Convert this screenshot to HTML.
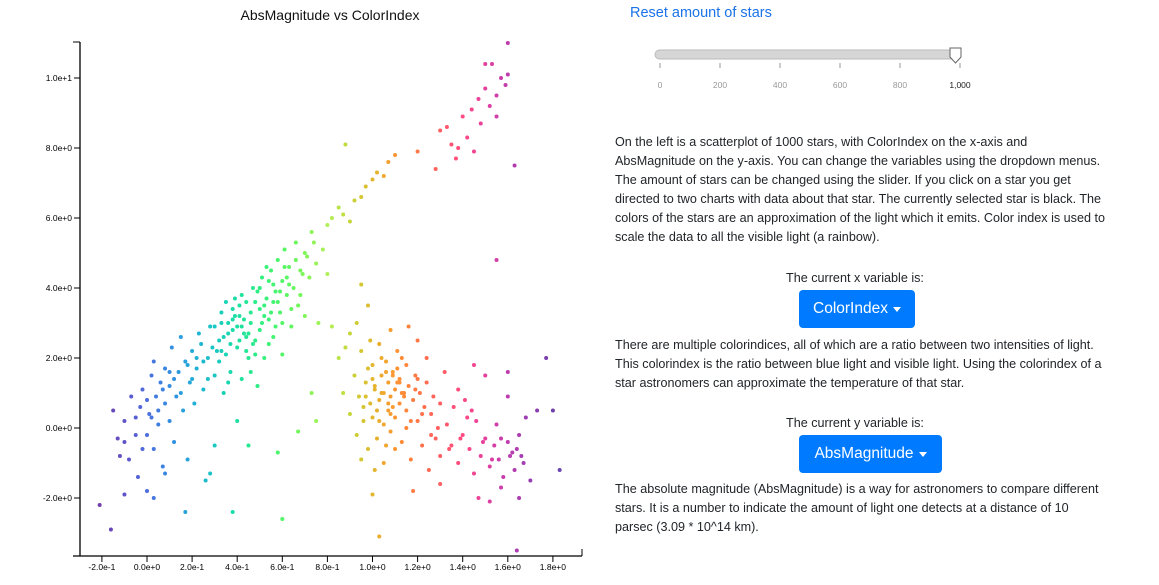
<!DOCTYPE html>
<html><head><meta charset="utf-8">
<style>
body{margin:0;width:1159px;height:585px;background:#fff;font-family:"Liberation Sans",sans-serif;overflow:hidden;position:relative;color:#212529}
.abs{position:absolute}
.p{position:absolute;left:615px;font-size:12.6px;line-height:19px;white-space:nowrap}
.lbl{position:absolute;font-size:12.6px;text-align:center;width:200px}
.btn{position:absolute;background:#007bff;color:#fff;border-radius:4px;font-size:15.5px;display:flex;align-items:center;justify-content:center}
.caret{display:inline-block;width:0;height:0;border-left:4px solid transparent;border-right:4px solid transparent;border-top:5px solid #fff;margin-left:5px;margin-top:1px}
</style></head><body>
<div class="abs" style="left:180px;top:7px;width:300px;text-align:center;font-size:14px;color:#111">AbsMagnitude vs ColorIndex</div>
<svg class="abs" style="left:0;top:0" width="600" height="585">
<g id="axes"></g><g id="pts"></g>
</svg>
<div class="abs" style="left:630px;top:5px;font-size:14.5px;color:#1a73e8">Reset amount of stars</div>
<svg class="abs" style="left:640px;top:40px" width="340" height="60">
<rect x="15" y="10" width="305" height="9" rx="4.5" fill="#d6d6d6" stroke="#bbb"/>
<g id="sticks"></g>
<path d="M310 8 h11 v9 l-5.5 6 l-5.5 -6 z" fill="#fff" stroke="#666"/>
</svg>
<div class="p" style="top:133px">On the left is a scatterplot of 1000 stars, with ColorIndex on the x-axis and<br>AbsMagnitude on the y-axis. You can change the variables using the dropdown menus.<br>The amount of stars can be changed using the slider. If you click on a star you get<br>directed to two charts with data about that star. The currently selected star is black. The<br>colors of the stars are an approximation of the light which it emits. Color index is used to<br>scale the data to all the visible light (a rainbow).</div>
<div class="lbl" style="left:755px;top:271px">The current x variable is:</div>
<div class="btn" style="left:799px;top:290px;width:116px;height:38px">ColorIndex<span class="caret"></span></div>
<div class="p" style="top:336px">There are multiple colorindices, all of which are a ratio between two intensities of light.<br>This colorindex is the ratio between blue light and visible light. Using the colorindex of a<br>star astronomers can approximate the temperature of that star.</div>
<div class="lbl" style="left:755px;top:416px">The current y variable is:</div>
<div class="btn" style="left:799px;top:435px;width:143px;height:38px">AbsMagnitude<span class="caret"></span></div>
<div class="p" style="top:480px">The absolute magnitude (AbsMagnitude) is a way for astronomers to compare different<br>stars. It is a number to indicate the amount of light one detects at a distance of 10<br>parsec (3.09 * 10^14 km).</div>
<script>
const xTicks=[-0.2,0,0.2,0.4,0.6,0.8,1.0,1.2,1.4,1.6,1.8];
const xTickLabels=["-2.0e-1","0.0e+0","2.0e-1","4.0e-1","6.0e-1","8.0e-1","1.0e+0","1.2e+0","1.4e+0","1.6e+0","1.8e+0"];
const yTicks=[-2,0,2,4,6,8,10];
const yTickLabels=["-2.0e+0","0.0e+0","2.0e+0","4.0e+0","6.0e+0","8.0e+0","1.0e+1"];
const sliderTicks=[0,200,400,600,800,1000];
const sliderLabels=["0","200","400","600","800","1,000"];
const colorIndex=[-0.15,-0.13,-0.12,-0.1,-0.1,-0.08,-0.07,-0.05,-0.05,-0.04,-0.03,-0.02,0,0,0.01,0.02,0.03,0.03,0.04,0.05,0.06,0.07,0.08,0.08,0.1,0.1,0.11,0.12,0.13,0.14,0.15,0.16,0.17,0.18,0.19,0.2,0.21,0.22,0.23,0.25,0.26,0.27,0.28,0.3,0.3,0.32,0.33,0.34,0.35,0.36,0.37,0.38,0.39,0.4,0.4,0.41,0.42,0.43,0.44,0.45,0.45,0.46,0.47,0.48,0.49,0.5,0.5,0.51,0.52,0.53,0.54,0.55,0.56,0.57,0.58,0.59,0.6,0.6,0.61,0.62,0.63,0.64,0.65,0.66,0.67,0.68,0.7,0.7,0.72,0.73,0.75,0.76,0.78,0.8,0.8,0.82,0.85,0.87,0.88,0.9,0.92,0.95,0.97,1.0,1.02,1.05,1.07,1.1,
0.0,0.03,0.08,0.17,0.28,0.38,0.58,0.6,0.67,0.73,0.75,-0.21,-0.16,-0.1,
0.85,0.87,0.9,0.9,0.92,0.93,0.94,0.95,0.96,0.97,0.98,0.99,1.0,1.0,1.01,1.02,1.03,1.03,1.04,1.05,1.05,1.06,1.07,1.07,1.08,1.08,1.09,1.1,1.1,1.11,1.12,1.12,1.13,1.14,1.15,1.15,1.16,1.17,1.18,1.19,1.2,1.2,1.21,1.22,1.23,1.24,1.25,1.26,1.27,1.28,1.3,1.3,1.32,1.33,1.35,1.36,1.38,1.4,1.41,1.43,1.45,1.46,1.48,1.5,1.5,1.52,1.54,1.55,1.56,1.58,1.6,1.6,1.62,1.63,1.65,1.66,1.68,1.7,1.73,1.77,1.8,1.83,1.64,1.03,1.0,1.18,1.3,1.47,1.52,1.57,1.65,1.45,1.38,1.6,1.55,1.63,0.95,0.98,1.08,1.16,0.88,0.82,0.93,
1.2,1.28,1.3,1.33,1.35,1.37,1.4,1.42,1.44,1.45,1.47,1.48,1.5,1.52,1.53,1.55,1.57,1.59,1.6,1.5,1.6,1.38,1.55,
0.3,0.32,0.34,0.36,0.38,0.4,0.42,0.44,0.46,0.48,0.5,0.52,0.54,0.56,0.58,0.6,0.62,0.64,0.66,0.68,0.35,0.43,0.47,0.53,0.57,0.2,0.24,0.15,0.1,0.05,0.27,0.33,0.41,
1.0,1.02,1.04,1.06,1.09,1.11,1.13,1.15,0.97,0.95,1.05,1.1,1.2,1.24,0.99,1.01,
0.31,0.33,0.37,0.39,0.41,0.44,0.46,0.49,0.51,0.54,0.56,0.59,0.61,0.63,0.42,0.45,0.38,0.52,0.48,0.55,0.36,0.29,0.25,0.22,0.18,0.12,0.07,0.02,-0.02,0.69,0.71,0.74,
1.01,1.03,1.06,1.08,1.12,1.14,1.17,1.19,1.22,1.26,1.29,1.34,1.39,1.42,1.44,1.49,1.53,1.57,1.61,1.64,1.67,1.04,1.09,1.13,0.98,0.96,1.07,1.11];
const absMag=[0.5,-0.3,-0.8,-0.4,0.2,-0.9,0.9,0.3,-0.2,-1.4,0.6,1.1,0.8,-0.2,0.4,1.5,-0.6,1.9,0.9,0.1,1.3,-1.1,0.7,1.7,0.2,1.2,2.3,-0.4,0.9,1.6,2.6,0.5,1.9,-0.9,1.3,2.2,0.7,1.7,2.7,1.1,-1.5,2.0,2.9,1.5,-0.5,2.5,3.3,1.0,2.1,3.0,1.6,2.8,3.7,2.3,0.2,3.2,1.4,2.7,3.6,2.0,-0.5,3.0,4.0,2.5,1.2,3.4,2.8,4.3,2.0,3.7,3.1,4.5,2.6,3.9,4.8,3.3,4.2,2.1,5.1,3.8,4.6,2.9,4.0,5.3,3.5,4.5,5.0,3.2,4.3,5.6,4.7,3.0,5.1,5.8,4.4,6.0,6.3,6.1,8.1,5.9,6.5,6.6,6.9,7.1,7.3,7.2,7.6,7.8,
-1.8,-2.0,-1.3,-2.4,-1.3,-2.4,-0.7,-2.6,-0.1,1.0,0.2,-2.2,-2.9,-1.9,
2.0,1.0,2.7,0.4,1.5,-0.2,0.9,2.2,0.2,1.3,-0.6,0.7,1.8,0.3,1.1,-0.3,2.4,0.8,1.5,0.1,1.0,1.9,0.5,1.3,-0.1,0.9,1.6,0.3,1.1,2.2,0.7,1.4,-0.4,1.0,0.5,1.8,1.2,-0.9,0.8,1.5,0.2,2.5,1.0,-0.5,0.6,1.3,-1.2,0.4,0.9,-0.3,0.7,-0.8,1.6,0.1,-0.5,0.6,-1.0,-0.2,0.8,-0.6,-1.3,0.2,-0.8,-0.3,1.5,-1.1,-0.5,0.1,-0.9,-1.4,-0.4,0.9,-0.7,-1.2,-0.2,-0.8,0.3,-1.5,0.5,2.0,0.5,-1.2,-3.5,-3.1,-1.9,-1.8,-1.6,-2.0,-2.1,-1.7,-2.0,1.8,1.1,1.6,4.8,7.5,4.1,3.5,2.8,2.9,2.3,2.9,3.0,
7.9,7.4,8.5,8.6,8.1,7.7,8.9,8.3,9.1,7.9,9.4,8.7,9.7,9.2,10.4,9.5,10.0,9.8,11.0,10.4,10.1,8.0,8.9,
2.9,1.9,2.6,1.3,3.4,2.9,3.8,2.2,1.6,3.6,4.0,3.2,2.4,4.1,3.6,3.0,4.3,3.4,4.8,3.8,3.6,3.1,2.4,4.6,2.9,1.4,2.4,1.0,1.6,0.5,1.4,2.2,2.5,
1.4,0.5,2.0,-0.5,0.6,1.7,1.0,0.0,0.9,-0.9,-1.0,-0.6,1.4,2.0,2.5,-1.2,
2.2,3.0,2.4,3.2,3.5,2.6,3.3,3.9,3.0,4.2,3.6,3.9,4.6,4.1,2.9,2.7,3.1,3.5,2.1,3.3,2.7,2.3,1.9,2.0,1.8,1.4,1.1,0.3,-0.6,4.4,4.9,5.3,
1.2,0.2,1.6,0.4,1.3,0.9,0.2,1.1,0.4,-0.2,0.0,-0.6,-0.3,0.3,0.5,-0.4,-0.9,-0.3,-0.8,-0.6,-1.0,1.0,1.5,2.0,1.7,0.6,0.7,1.3];
const NS="http://www.w3.org/2000/svg";
const xs=v=>147+(v*225.5);
const ys=v=>428-v*35;
function col(v){
  let t=1-(v+0.2)/2; t=t-Math.floor(t);
  const ts=Math.abs(t-0.5);
  const h=(360*t-100+120)*Math.PI/180, s=1.5-1.5*ts, l=0.8-0.9*ts;
  const a=s*l*(1-l), c=Math.cos(h), sn=Math.sin(h);
  const f=x=>Math.max(0,Math.min(255,Math.round(255*x)));
  return `rgb(${f(l+a*(-0.14861*c+1.78277*sn))},${f(l+a*(-0.29227*c-0.90649*sn))},${f(l+a*(1.97294*c))})`;
}
const ax=document.getElementById('axes');
function mk(t,a,p){const e=document.createElementNS(NS,t);for(const k in a)e.setAttribute(k,a[k]);p.appendChild(e);return e;}
let l=mk('line',{x1:80,y1:42,x2:80,y2:556,stroke:'#000','stroke-width':1.3},ax);


l=mk('line',{x1:73,y1:556,x2:582,y2:556,stroke:'#000','stroke-width':1.3},ax);


mk('line',{x1:73,y1:42,x2:80,y2:42,stroke:'#000'},ax);
mk('line',{x1:582,y1:556,x2:582,y2:549,stroke:'#000'},ax);
yTicks.forEach((v,i)=>{mk('line',{x1:74,x2:80,y1:ys(v),y2:ys(v),stroke:'#000'},ax);
const t=mk('text',{x:72,y:ys(v)+3,'text-anchor':'end','font-size':8.5,'font-family':'Liberation Sans'},ax);t.textContent=yTickLabels[i];

});
xTicks.forEach((v,i)=>{mk('line',{x1:xs(v),x2:xs(v),y1:556,y2:562,stroke:'#000'},ax);
const t=mk('text',{x:xs(v),y:570,'text-anchor':'middle','font-size':8.5,'font-family':'Liberation Sans'},ax);t.textContent=xTickLabels[i];

});
const pg=document.getElementById('pts');
colorIndex.forEach((v,i)=>{const c=mk('circle',{cx:xs(v),cy:ys(absMag[i]),r:2,fill:col(v)},pg);

});
const st=document.getElementById('sticks');
sliderTicks.forEach((v,i)=>{const x=20+v*0.3;mk('line',{x1:x,x2:x,y1:23,y2:28,stroke:'#999'},st);
const t=mk('text',{x:x,y:48,'text-anchor':'middle','font-size':8.5,'font-family':'Liberation Sans',fill:i==5?'#222':'#999'},st);t.textContent=sliderLabels[i];

});
</script>
</body></html>
